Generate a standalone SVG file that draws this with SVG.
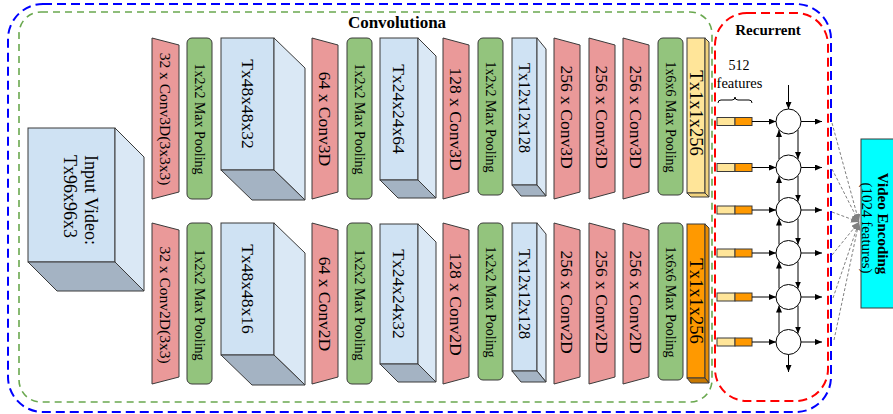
<svg xmlns="http://www.w3.org/2000/svg" width="893" height="414" viewBox="0 0 893 414">
<style>
  .t{font-family:"Liberation Serif","Times New Roman",serif;fill:#000}
  .v{text-anchor:middle;dominant-baseline:central}
  .conv{fill:#EA9999;stroke:#3a3a3a;stroke-width:1}
  .pool{fill:#93C47D;stroke:#3a3a3a;stroke-width:1}
  .bf{fill:#CFE2F3;stroke:#3a3a3a;stroke-width:1}
  .bs{fill:#DAE8F5;stroke:#3a3a3a;stroke-width:1}
  .bb{fill:#A4B3C3;stroke:#3a3a3a;stroke-width:1}
  .yf{fill:#FFE599;stroke:#3a3a3a;stroke-width:1}
  .ys{fill:#F2D37E;stroke:#3a3a3a;stroke-width:1}
  .of{fill:#FF9900;stroke:#3a3a3a;stroke-width:1}
  .os{fill:#E88B00;stroke:#3a3a3a;stroke-width:1}
  .ob{fill:#C87800;stroke:#3a3a3a;stroke-width:1}
  .ln{stroke:#000;stroke-width:1;fill:none}
  .gd{stroke:#808080;stroke-width:1;stroke-dasharray:3 2;fill:none}
  .cell{fill:#fff;stroke:#000;stroke-width:1}
</style>
<defs>
  <marker id="ah" markerWidth="7" markerHeight="6" refX="7" refY="3" orient="auto" markerUnits="userSpaceOnUse">
    <path d="M0,0 L7,3 L0,6 Z" fill="#000"/>
  </marker>
  <marker id="ahg" markerWidth="8" markerHeight="7" refX="8" refY="3.5" orient="auto" markerUnits="userSpaceOnUse">
    <path d="M0,0 L8,3.5 L0,7 Z" fill="#808080"/>
  </marker>
</defs>

<!-- boundaries -->
<g id="groups">
  <rect x="8" y="4" width="823" height="408" rx="35" ry="35" fill="none" stroke="#0000FF" stroke-width="2" stroke-dasharray="9 5"/>
  <rect x="19" y="12" width="693" height="390" rx="22" ry="22" fill="none" stroke="#6AA84F" stroke-width="1.6" stroke-dasharray="7 5"/>
  <rect x="715" y="13" width="113" height="388" rx="32" ry="32" fill="none" stroke="#FF0000" stroke-width="2" stroke-dasharray="9 5"/>
  <text class="t" x="397" y="28" font-size="17" font-weight="bold" text-anchor="middle">Convolutiona</text>
  <text class="t" x="768" y="35" font-size="15" font-weight="bold" text-anchor="middle">Recurrent</text>
</g>

<!-- input -->
<g id="input">
  <rect class="bf" x="28" y="128" width="87" height="134"/>
  <polygon class="bs" points="115,128 144,157 144,291 115,262"/>
  <polygon class="bb" points="28,262 115,262 144,291 57,291"/>
  <text class="t" font-size="18" dominant-baseline="central" transform="translate(91,155) rotate(90)">Input Video:</text>
  <text class="t" font-size="18" dominant-baseline="central" transform="translate(70,155) rotate(90)">Tx96x96x3</text>
</g>

<!-- top row (3D) -->
<g id="conv3d-1">
  <polygon class="conv" points="152,38 179,45 179,192 152,199"/>
  <text class="t v" font-size="15.5" transform="translate(165.5,119) rotate(90)">32 x Conv3D(3x3x3)</text>
</g>
<g id="pool3d-1">
  <rect class="pool" x="187" y="38" width="25" height="161" rx="5"/>
  <text class="t v" font-size="14" transform="translate(199.5,119) rotate(90)">1x2x2 Max Pooling</text>
</g>
<g id="vol3d-1">
  <rect class="bf" x="221" y="38" width="53" height="132"/>
  <polygon class="bs" points="274,38 305,68 305,200 274,170"/>
  <polygon class="bb" points="221,170 274,170 305,200 252,200"/>
  <text class="t v" font-size="17.5" transform="translate(247.5,104) rotate(90)">Tx48x48x32</text>
</g>
<g id="conv3d-2">
  <polygon class="conv" points="312,38 338,45 338,192 312,199"/>
  <text class="t v" font-size="17.5" transform="translate(325,119) rotate(90)">64 x Conv3D</text>
</g>
<g id="pool3d-2">
  <rect class="pool" x="347" y="38" width="25" height="161" rx="5"/>
  <text class="t v" font-size="14" transform="translate(359.5,119) rotate(90)">1x2x2 Max Pooling</text>
</g>
<g id="vol3d-2">
  <rect class="bf" x="380" y="38" width="38" height="142"/>
  <polygon class="bs" points="418,38 436,56 436,198 418,180"/>
  <polygon class="bb" points="380,180 418,180 436,198 398,198"/>
  <text class="t v" font-size="17.5" transform="translate(399,109) rotate(90)">Tx24x24x64</text>
</g>
<g id="conv3d-3">
  <polygon class="conv" points="443,38 469,45 469,192 443,199"/>
  <text class="t v" font-size="17.5" transform="translate(456,119) rotate(90)">128 x Conv3D</text>
</g>
<g id="pool3d-3">
  <rect class="pool" x="478" y="38" width="25" height="157" rx="5"/>
  <text class="t v" font-size="14" transform="translate(490.5,117) rotate(90)">1x2x2 Max Pooling</text>
</g>
<g id="vol3d-3">
  <rect class="bf" x="512" y="38" width="25" height="147"/>
  <polygon class="bs" points="537,38 546,49 546,196 537,185"/>
  <polygon class="bb" points="512,185 537,185 546,196 521,196"/>
  <text class="t v" font-size="16" transform="translate(524.5,108) rotate(90)">Tx12x12x128</text>
</g>
<g id="conv3d-4">
  <polygon class="conv" points="554,38 580,45 580,192 554,199"/>
  <text class="t v" font-size="17.5" transform="translate(567,117) rotate(90)">256 x Conv3D</text>
</g>
<g id="conv3d-5">
  <polygon class="conv" points="589,38 615,45 615,192 589,199"/>
  <text class="t v" font-size="17.5" transform="translate(602,117) rotate(90)">256 x Conv3D</text>
</g>
<g id="conv3d-6">
  <polygon class="conv" points="623,38 649,45 649,192 623,199"/>
  <text class="t v" font-size="17.5" transform="translate(636,117) rotate(90)">256 x Conv3D</text>
</g>
<g id="pool3d-4">
  <rect class="pool" x="658" y="38" width="25" height="157" rx="5"/>
  <text class="t v" font-size="14" transform="translate(670.5,117) rotate(90)">1x6x6 Max Pooling</text>
</g>
<g id="vec3d">
  <rect class="yf" x="687" y="38" width="18" height="155"/>
  <polygon class="ys" points="705,38 709,42 709,197 705,193"/>
  <polygon class="ys" points="687,193 705,193 709,197 691,197"/>
  <text class="t v" font-size="18.5" transform="translate(696,113) rotate(90)">Tx1x1x256</text>
</g>

<!-- bottom row (2D) -->
<g id="conv2d-1">
  <polygon class="conv" points="152,223 179,230 179,377 152,384"/>
  <text class="t v" font-size="15.5" transform="translate(165.5,305) rotate(90)">32 x Conv2D(3x3)</text>
</g>
<g id="pool2d-1">
  <rect class="pool" x="187" y="223" width="25" height="161" rx="5"/>
  <text class="t v" font-size="14" transform="translate(199.5,305) rotate(90)">1x2x2 Max Pooling</text>
</g>
<g id="vol2d-1">
  <rect class="bf" x="221" y="223" width="53" height="132"/>
  <polygon class="bs" points="274,223 305,253 305,385 274,355"/>
  <polygon class="bb" points="221,355 274,355 305,385 252,385"/>
  <text class="t v" font-size="17.5" transform="translate(247.5,289) rotate(90)">Tx48x48x16</text>
</g>
<g id="conv2d-2">
  <polygon class="conv" points="312,223 338,230 338,377 312,384"/>
  <text class="t v" font-size="17.5" transform="translate(325,304) rotate(90)">64 x Conv2D</text>
</g>
<g id="pool2d-2">
  <rect class="pool" x="347" y="223" width="25" height="161" rx="5"/>
  <text class="t v" font-size="14" transform="translate(359.5,305) rotate(90)">1x2x2 Max Pooling</text>
</g>
<g id="vol2d-2">
  <rect class="bf" x="380" y="224" width="38" height="140"/>
  <polygon class="bs" points="418,224 436,242 436,382 418,364"/>
  <polygon class="bb" points="380,364 418,364 436,382 398,382"/>
  <text class="t v" font-size="17.5" transform="translate(399,294) rotate(90)">Tx24x24x32</text>
</g>
<g id="conv2d-3">
  <polygon class="conv" points="443,223 469,230 469,377 443,384"/>
  <text class="t v" font-size="17.5" transform="translate(456,304) rotate(90)">128 x Conv2D</text>
</g>
<g id="pool2d-3">
  <rect class="pool" x="478" y="223" width="25" height="157" rx="5"/>
  <text class="t v" font-size="14" transform="translate(490.5,302) rotate(90)">1x2x2 Max Pooling</text>
</g>
<g id="vol2d-3">
  <rect class="bf" x="512" y="223" width="25" height="148"/>
  <polygon class="bs" points="537,223 546,234 546,382 537,371"/>
  <polygon class="bb" points="512,371 537,371 546,382 521,382"/>
  <text class="t v" font-size="16" transform="translate(524.5,294) rotate(90)">Tx12x12x128</text>
</g>
<g id="conv2d-4">
  <polygon class="conv" points="554,223 580,230 580,377 554,384"/>
  <text class="t v" font-size="17.5" transform="translate(567,302) rotate(90)">256 x Conv2D</text>
</g>
<g id="conv2d-5">
  <polygon class="conv" points="589,223 615,230 615,377 589,384"/>
  <text class="t v" font-size="17.5" transform="translate(602,302) rotate(90)">256 x Conv2D</text>
</g>
<g id="conv2d-6">
  <polygon class="conv" points="623,223 649,230 649,377 623,384"/>
  <text class="t v" font-size="17.5" transform="translate(636,302) rotate(90)">256 x Conv2D</text>
</g>
<g id="pool2d-4">
  <rect class="pool" x="658" y="223" width="25" height="157" rx="5"/>
  <text class="t v" font-size="14" transform="translate(670.5,302) rotate(90)">1x6x6 Max Pooling</text>
</g>
<g id="vec2d">
  <rect class="of" x="687" y="224" width="18" height="154"/>
  <polygon class="os" points="705,224 709,228 709,383 705,378"/>
  <polygon class="ob" points="687,378 705,378 709,383 691,383"/>
  <text class="t v" font-size="18.5" transform="translate(696,301) rotate(90)">Tx1x1x256</text>
</g>

<!-- recurrent -->
<g id="features-label">
  <text class="t" x="739" y="70" font-size="14" text-anchor="middle">512</text>
  <text class="t" x="739.5" y="88" font-size="14.5" text-anchor="middle">features</text>
  <path class="ln" d="M718,103 Q718,100 721,100 L732,100 Q735,100 735,97 Q735,100 738,100 L749,100 Q752,100 752,103"/>
</g>
<g id="feature-bars">
  <rect class="yf" x="717" y="117.5" width="18" height="8"/><rect class="of" x="735" y="117.5" width="17" height="8"/>
  <rect class="yf" x="717" y="163.5" width="18" height="8"/><rect class="of" x="735" y="163.5" width="17" height="8"/>
  <rect class="yf" x="717" y="206" width="18" height="8"/><rect class="of" x="735" y="206" width="17" height="8"/>
  <rect class="yf" x="717" y="249" width="18" height="8"/><rect class="of" x="735" y="249" width="17" height="8"/>
  <rect class="yf" x="717" y="293" width="18" height="8"/><rect class="of" x="735" y="293" width="17" height="8"/>
  <rect class="yf" x="717" y="338" width="18" height="8"/><rect class="of" x="735" y="338" width="17" height="8"/>
</g>
<g id="cells">
  <circle class="cell" cx="788.5" cy="121.5" r="12.5"/>
  <circle class="cell" cx="788.5" cy="167.5" r="12.5"/>
  <circle class="cell" cx="788.5" cy="210" r="12.5"/>
  <circle class="cell" cx="788.5" cy="253" r="12.5"/>
  <circle class="cell" cx="788.5" cy="297" r="12.5"/>
  <circle class="cell" cx="788.5" cy="342" r="12.5"/>
</g>
<g id="output">
  <rect x="861" y="139" width="36" height="169" fill="#00FFFF" stroke="#3a3a3a" stroke-width="1"/>
  <text class="t v" font-size="15" font-weight="bold" transform="translate(883,223.5) rotate(90)">Video Encoding</text>
  <text class="t v" font-size="15" transform="translate(867,228) rotate(90)">(1024 features)</text>
</g>

<g id="connectors">
  <!-- bar to cell -->
  <line class="ln" x1="752" y1="121.5" x2="776" y2="121.5" marker-end="url(#ah)"/>
  <line class="ln" x1="752" y1="167.5" x2="776" y2="167.5" marker-end="url(#ah)"/>
  <line class="ln" x1="752" y1="210" x2="776" y2="210" marker-end="url(#ah)"/>
  <line class="ln" x1="752" y1="253" x2="776" y2="253" marker-end="url(#ah)"/>
  <line class="ln" x1="752" y1="297" x2="776" y2="297" marker-end="url(#ah)"/>
  <line class="ln" x1="752" y1="342" x2="776" y2="342" marker-end="url(#ah)"/>
  <!-- cell outputs -->
  <line class="ln" x1="801" y1="121.5" x2="822" y2="121.5" marker-end="url(#ah)"/>
  <line class="ln" x1="801" y1="167.5" x2="822" y2="167.5" marker-end="url(#ah)"/>
  <line class="ln" x1="801" y1="210" x2="822" y2="210" marker-end="url(#ah)"/>
  <line class="ln" x1="801" y1="253" x2="822" y2="253" marker-end="url(#ah)"/>
  <line class="ln" x1="801" y1="297" x2="822" y2="297" marker-end="url(#ah)"/>
  <line class="ln" x1="801" y1="342" x2="822" y2="342" marker-end="url(#ah)"/>
  <!-- top in / bottom out -->
  <line class="ln" x1="788.5" y1="85" x2="788.5" y2="109" marker-end="url(#ah)"/>
  <line class="ln" x1="788.5" y1="354.5" x2="788.5" y2="372" marker-end="url(#ah)"/>
  <!-- backward (up) -->
  <line class="ln" x1="779" y1="159" x2="779" y2="130" marker-end="url(#ah)"/>
  <line class="ln" x1="779" y1="201.5" x2="779" y2="176" marker-end="url(#ah)"/>
  <line class="ln" x1="779" y1="244.5" x2="779" y2="218.5" marker-end="url(#ah)"/>
  <line class="ln" x1="779" y1="288.5" x2="779" y2="261.5" marker-end="url(#ah)"/>
  <line class="ln" x1="779" y1="333.5" x2="779" y2="305.5" marker-end="url(#ah)"/>
  <!-- forward (down) -->
  <line class="ln" x1="798" y1="130" x2="798" y2="159" marker-end="url(#ah)"/>
  <line class="ln" x1="798" y1="176" x2="798" y2="201.5" marker-end="url(#ah)"/>
  <line class="ln" x1="798" y1="218.5" x2="798" y2="244.5" marker-end="url(#ah)"/>
  <line class="ln" x1="798" y1="261.5" x2="798" y2="288.5" marker-end="url(#ah)"/>
  <line class="ln" x1="798" y1="305.5" x2="798" y2="333.5" marker-end="url(#ah)"/>
  <!-- to video encoding -->
  <line class="gd" x1="832" y1="123" x2="859" y2="222" marker-end="url(#ahg)"/>
  <line class="gd" x1="832" y1="169" x2="859" y2="222" marker-end="url(#ahg)"/>
  <line class="gd" x1="832" y1="212" x2="859" y2="222" marker-end="url(#ahg)"/>
  <line class="gd" x1="832" y1="255" x2="859" y2="222" marker-end="url(#ahg)"/>
  <line class="gd" x1="833" y1="298" x2="859" y2="222" marker-end="url(#ahg)"/>
  <line class="gd" x1="834" y1="340" x2="859" y2="222" marker-end="url(#ahg)"/>
</g>
</svg>
